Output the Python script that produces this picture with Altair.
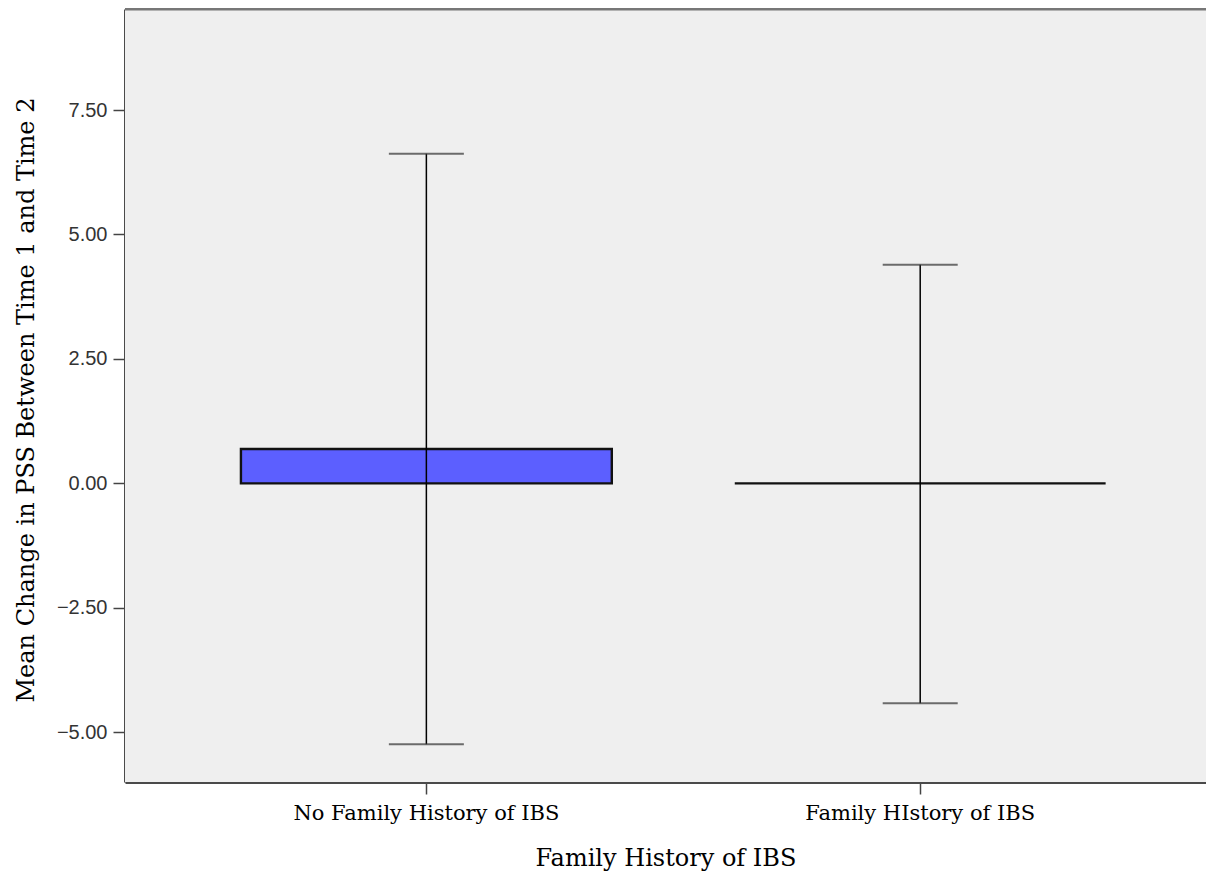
import altair as alt
import pandas as pd

categories = ["No Family History of IBS", "Family HIstory of IBS"]
means = [0.69, 0.0]
lower = [-5.24, -4.42]
upper = [6.62, 4.39]

df = pd.DataFrame({"cat": categories, "mean": means, "lo": lower, "hi": upper})

W = 1081
H = 773

xscale = alt.Scale(domain=categories, paddingInner=0.249, paddingOuter=0.219, align=0.536)
yscale = alt.Scale(domain=[-6.0, 9.53], nice=False, zero=False)

xenc = alt.X("cat:N", scale=xscale, sort=categories,
             axis=alt.Axis(title="Family History of IBS", labelAngle=0, labelLimit=600,
                           labelFont="DejaVu Serif", labelFontSize=21, labelColor="black",
                           labelPadding=8, tickSize=12, tickColor="#444", tickWidth=1.5,
                           domainColor="#4a4a4a", domainWidth=3,
                           titleFont="DejaVu Serif", titleFontSize=24, titleFontWeight="normal",
                           titleColor="black", titleY=76, titleBaseline="middle"))
yenc = alt.Y("mean:Q", scale=yscale,
             axis=alt.Axis(title="Mean Change in PSS Between Time 1 and Time 2",
                           values=[-5, -2.5, 0, 2.5, 5, 7.5], format=".2f",
                           labelFont="Liberation Sans", labelFontSize=20, labelColor="#333",
                           labelPadding=6, tickSize=12, tickColor="#444", tickWidth=1.5,
                           domainColor="#4a4a4a", domainWidth=3, grid=False,
                           titleFont="DejaVu Serif", titleFontSize=24, titleFontWeight="normal",
                           titleColor="black", titleAngle=270, titleX=-99, titleY=H / 2 + 4,
                           titleBaseline="middle", titleAlign="center"))

base = alt.Chart(df)

bg = alt.Chart(pd.DataFrame({"a": [0]})).mark_rect(color="#efefef").encode(
    x=alt.value(0), x2=alt.value(W), y=alt.value(0), y2=alt.value(H))
bars = base.mark_bar(color="#5c5fff", stroke="#111", strokeWidth=2.4).encode(x=xenc, y=yenc, y2=alt.datum(0))
err = base.mark_rule(color="black", strokeWidth=1.5).encode(x=alt.X("cat:N", scale=xscale, sort=categories),
                                                             y=alt.Y("lo:Q", scale=yscale), y2="hi:Q")
cap_hi = base.mark_tick(color="#333", size=75, thickness=2).encode(x=alt.X("cat:N", scale=xscale, sort=categories),
                                                                  y=alt.Y("hi:Q", scale=yscale))
cap_lo = base.mark_tick(color="#333", size=75, thickness=2).encode(x=alt.X("cat:N", scale=xscale, sort=categories),
                                                                  y=alt.Y("lo:Q", scale=yscale))
top = alt.Chart(pd.DataFrame({"a": [0]})).mark_rule(color="#777", strokeWidth=3).encode(
    x=alt.value(0), x2=alt.value(W), y=alt.value(0))

chart = alt.layer(bg, bars, err, cap_hi, cap_lo, top).properties(
    width=W, height=H,
    autosize=alt.AutoSizeParams(type="none"),
    padding={"left": 117, "top": 1, "right": 0, "bottom": 90},
).configure_view(stroke=None).configure(background="white")

chart.save("out.html", embed_options={"renderer": "svg", "actions": False})
